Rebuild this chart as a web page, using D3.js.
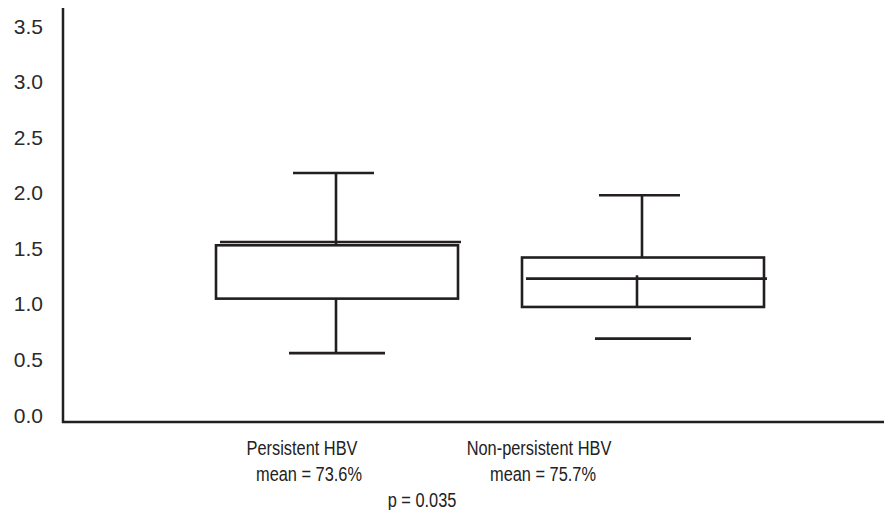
<!DOCTYPE html>
<html>
<head>
<meta charset="utf-8">
<script src="https://cdn.jsdelivr.net/npm/d3@7"></script>
<style>
  body { margin: 0; background: #fff; }
</style>
</head>
<body>
<div id="chart"></div>
<script>
// box plot values
const groups = ['Persistent HBV', 'Non-persistent HBV'];
const meanLabels = ['mean = 73.6%', 'mean = 75.7%'];
const upperCap = [2.24, 2.04];
const q3 = [1.59, 1.48];
const median = [1.62, 1.29];
const q1 = [1.11, 1.035];
const lowerCap = [0.62, 0.75];
const lowerStem = [true, false];
const stubTop = [null, 1.32];
const yTicks = [0, 0.5, 1.0, 1.5, 2.0, 2.5, 3.0, 3.5];
const pLabel = 'p = 0.035';

const width = 884;
const height = 510;
const ink = '#231f20';

const svg = d3.select('#chart')
  .append('svg')
  .attr('width', width)
  .attr('height', height)
  .attr('font-family', 'Liberation Sans, Arial, sans-serif');

const y = d3.scaleLinear().domain([0, 3.5]).range([422, 33]);
const x = d3.scalePoint().domain(groups).range([337, 643]);

// y axis (no tick marks, labels sit on their value)
const yAxis = svg.append('g')
  .attr('transform', 'translate(63,0)')
  .call(d3.axisLeft(y).tickValues(yTicks).tickFormat(d3.format('.1f')).tickSize(0).tickPadding(20));
yAxis.select('.domain').remove();
yAxis.selectAll('text')
  .attr('font-size', 21)
  .attr('font-family', 'Liberation Sans, Arial, sans-serif')
  .attr('fill', '#2a2a2a')
  .attr('dy', 0);

svg.append('line')
  .attr('x1', 63).attr('x2', 63)
  .attr('y1', 8).attr('y2', y(0) + 1)
  .attr('stroke', ink).attr('stroke-width', 2.5);

svg.append('line')
  .attr('x1', 62).attr('x2', width)
  .attr('y1', y(0)).attr('y2', y(0))
  .attr('stroke', ink).attr('stroke-width', 2.6);

// boxes
const g = svg.append('g')
  .attr('stroke', ink)
  .attr('stroke-width', 2.6)
  .attr('fill', 'none');

groups.forEach((name, i) => {
  const c = x(name);
  const wx = c - 1;

  // upper whisker
  g.append('line').attr('x1', wx).attr('x2', wx).attr('y1', y(upperCap[i])).attr('y2', y(q3[i]));
  g.append('line').attr('x1', c - 44).attr('x2', c + 37).attr('y1', y(upperCap[i])).attr('y2', y(upperCap[i]));

  // box
  g.append('rect')
    .attr('x', c - 121).attr('width', 242)
    .attr('y', y(q3[i])).attr('height', y(q1[i]) - y(q3[i]));

  // median
  g.append('line').attr('x1', c - 117).attr('x2', c + 124).attr('y1', y(median[i])).attr('y2', y(median[i]));

  if (stubTop[i] !== null) {
    g.append('line').attr('x1', c - 6).attr('x2', c - 6).attr('y1', y(stubTop[i])).attr('y2', y(q1[i]));
  }

  // lower whisker
  if (lowerStem[i]) {
    g.append('line').attr('x1', wx).attr('x2', wx).attr('y1', y(q1[i])).attr('y2', y(lowerCap[i]));
  }
  g.append('line').attr('x1', c - 48).attr('x2', c + 48).attr('y1', y(lowerCap[i])).attr('y2', y(lowerCap[i]));
});

// category labels under the axis (condensed text, as in the scan)
const labelOffset = [-35, -104];
const labels = svg.append('g')
  .attr('font-family', 'Liberation Sans, Arial, sans-serif')
  .attr('font-size', 19.5)
  .attr('fill', '#222')
  .attr('text-anchor', 'middle');

function narrowText(cx, cy, str) {
  labels.append('text')
    .attr('transform', `translate(${cx},${cy}) scale(0.84,1)`)
    .text(str);
}

groups.forEach((name, i) => {
  const c = x(name) + labelOffset[i];
  narrowText(c, 455, name);
  narrowText(c + (i === 0 ? 7 : 4), 481, meanLabels[i]);
});

narrowText(422, 507, pLabel);
</script>
</body>
</html>
